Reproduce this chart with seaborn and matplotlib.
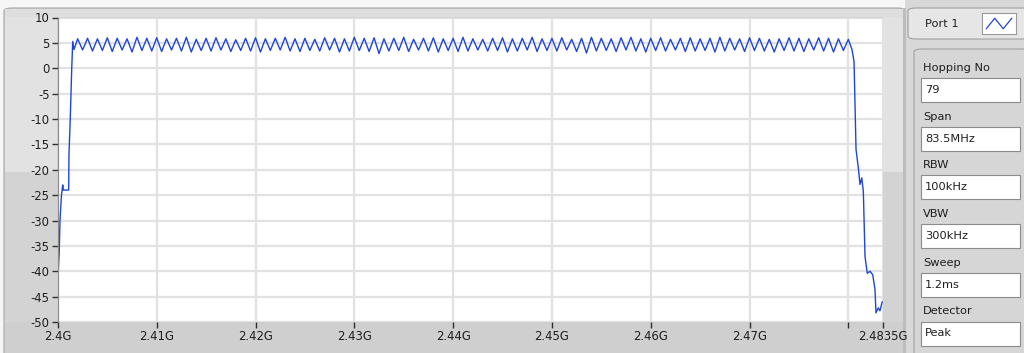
"""
Bluetooth hopping spectrum (79 channels) recreated as a LabVIEW-like panel.
"""

import numpy as np
import pandas as pd
import matplotlib

matplotlib.use("Agg")
import matplotlib.pyplot as plt
import seaborn as sns
from matplotlib.patches import Rectangle, FancyBboxPatch


# hop channels in MHz (79 channels, 1 MHz apart)
HOP_CHANNELS_MHZ = list(range(2402, 2481))

# peak level on each channel, dBm
PEAK_DB = [
    5.8, 5.9, 5.8, 6.0, 5.9, 5.8, 6.1, 5.9, 6.0, 5.8,
    5.9, 6.1, 5.7, 5.9, 6.0, 5.8, 5.6, 5.9, 6.0, 5.8,
    5.9, 6.1, 5.8, 5.9, 5.7, 6.0, 5.9, 5.8, 6.1, 5.9,
    6.0, 5.8, 5.9, 6.1, 5.7, 5.9, 6.0, 5.8, 5.9, 6.1,
    5.8, 5.7, 5.9, 6.0, 5.8, 5.9, 6.1, 5.8, 5.9, 6.0,
    5.7, 5.9, 6.1, 5.9, 5.8, 6.0, 6.1, 5.8, 5.9, 6.0,
    5.7, 5.9, 6.0, 5.8, 5.9, 6.1, 5.9, 5.8, 6.0, 5.9,
    5.7, 5.8, 6.0, 5.9, 5.8, 6.0, 5.9, 5.8, 5.7,
]

# level of the dip between neighbouring channels, dBm
DIP_DB = [
    3.6, 3.4, 3.5, 3.3, 3.6, 3.2, 3.5, 3.4, 3.3, 3.6,
    3.4, 3.2, 3.5, 3.4, 3.6, 3.3, 3.5, 3.4, 3.2, 3.5,
    3.6, 3.4, 3.3, 3.5, 3.4, 3.6, 3.2, 3.4, 3.5, 3.3,
    2.9, 3.4, 3.5, 3.3, 3.6, 3.4, 3.2, 3.5, 3.3, 3.4,
    3.6, 3.4, 3.5, 3.2, 3.4, 3.6, 3.3, 3.5, 3.4, 3.6,
    3.3, 3.0, 3.4, 3.5, 3.3, 3.6, 3.4, 3.2, 3.5, 3.4,
    3.6, 3.3, 3.4, 3.5, 3.2, 3.4, 3.6, 3.3, 3.5, 3.4,
    3.2, 3.5, 3.4, 3.3, 3.6, 3.4, 3.2, 3.5,
]

# band edges
LEFT_EDGE_MHZ = [2400.0, 2400.14, 2400.21, 2400.36, 2400.49, 2400.55,
                 2401.09, 2401.12, 2401.25, 2401.40, 2401.50, 2401.63]
LEFT_EDGE_DB = [-41.5, -36, -30, -25, -23, -24, -24, -17, -10, 0, 5.3, 3.7]

RIGHT_EDGE_MHZ = [2480.37, 2480.58, 2480.71, 2480.78, 2481.01, 2481.18,
                  2481.36, 2481.52, 2481.69, 2481.92, 2482.2, 2482.47,
                  2482.7, 2482.8, 2483.03, 2483.2, 2483.43]
RIGHT_EDGE_DB = [3.7, 1.3, -10, -16, -19.6, -22.9, -21.6, -24.3, -37.1,
                 -40.4, -40, -40.7, -43.6, -48.2, -47.2, -47.8, -46]

X_TICKS_GHZ = [2.40, 2.41, 2.42, 2.43, 2.44, 2.45, 2.46, 2.47, 2.48, 2.4835]
X_TICK_LABELS = ["2.4G", "2.41G", "2.42G", "2.43G", "2.44G", "2.45G",
                 "2.46G", "2.47G", "", "2.4835G"]
Y_TICKS = [10, 5, 0, -5, -10, -15, -20, -25, -30, -35, -40, -45, -50]

SETTINGS_NAMES = ["Hopping No", "Span", "RBW", "VBW", "Sweep", "Detector"]
SETTINGS_VALUES = ["79", "83.5MHz", "100kHz", "300kHz", "1.2ms", "Peak"]

W, H = 1024, 353
TRACE_BLUE = "#1f45d8"


def build_trace() -> pd.DataFrame:
    freq = list(LEFT_EDGE_MHZ)
    level = list(LEFT_EDGE_DB)
    for i, ch in enumerate(HOP_CHANNELS_MHZ):
        freq.append(ch)
        level.append(PEAK_DB[i])
        if i < len(DIP_DB):
            freq.append(ch + 0.5)
            level.append(DIP_DB[i])
    freq += RIGHT_EDGE_MHZ
    level += RIGHT_EDGE_DB
    return pd.DataFrame({"freq_ghz": np.array(freq) / 1000.0, "level": level})


def box(x0, y0, x1, y1):
    # pixel box (top-left origin) -> figure fraction (x, y, w, h)
    return x0 / W, 1 - y1 / H, (x1 - x0) / W, (y1 - y0) / H


def add_rect(fig, x0, y0, x1, y1, face, edge="none", lw=0.0, z=0):
    x, y, w, h = box(x0, y0, x1, y1)
    fig.add_artist(Rectangle((x, y), w, h, transform=fig.transFigure,
                             facecolor=face, edgecolor=edge, linewidth=lw,
                             zorder=z))


def add_round(fig, x0, y0, x1, y1, face, edge, z=0):
    x, y, w, h = box(x0, y0, x1, y1)
    fig.add_artist(FancyBboxPatch((x, y), w, h, transform=fig.transFigure,
                                  boxstyle="round,pad=0,rounding_size=0.008",
                                  facecolor=face, edgecolor=edge,
                                  linewidth=0.8, zorder=z))


def main() -> None:
    sns.set_theme(style="white")
    plt.rcParams["font.family"] = ["DejaVu Sans"]
    fig = plt.figure(figsize=(W / 100, H / 100), dpi=100, facecolor="#f6f6f6")

    # graph panel backdrop
    add_round(fig, 4, 8, 905, 360, "#d3d3d3", "#a8a8a8", z=-5)
    add_rect(fig, 5, 9, 904, 17, "#dedede", z=-4)
    add_rect(fig, 5, 17, 57, 172, "#e2e2e2", z=-4)
    add_rect(fig, 883, 17, 903, 172, "#e2e2e2", z=-4)
    add_rect(fig, 5, 322, 904, 353, "#cfcfcf", z=-4)

    # right side panel
    add_rect(fig, 905, 0, 1024, 353, "#d8d8d8", z=-6)
    add_rect(fig, 903, 8, 906, 353, "#bdbdbd", z=-3)
    add_round(fig, 908, 8, 1030, 39, "#e6e6e6", "#a0a0a0", z=-2)
    fig.text(925 / W, 1 - 24 / H, "Port 1", fontsize=8.2, color="#202020",
             va="center", ha="left")
    icon = fig.add_axes(box(982, 13, 1016, 34))
    icon.set_zorder(3)
    icon.plot([0, 1, 2, 3], [0, 1, 0, 1], color=TRACE_BLUE, lw=0.9)
    icon.set_xlim(-0.5, 3.5)
    icon.set_ylim(-0.5, 1.5)
    icon.set_xticks([])
    icon.set_yticks([])
    icon.set_facecolor("white")
    for s in icon.spines.values():
        s.set_color("#9a9a9a")
        s.set_linewidth(0.8)

    add_round(fig, 914, 49, 1030, 360, "#d6d6d6", "#a0a0a0", z=-2)
    for i, (name, value) in enumerate(zip(SETTINGS_NAMES, SETTINGS_VALUES)):
        top = 58 + i * 48.7
        fig.text(923 / W, 1 - (top + 10) / H, name, fontsize=8.2,
                 color="#1e1e1e", va="center", ha="left")
        add_rect(fig, 921, top + 20, 1020, top + 44, "white", "#8c8c8c",
                 0.8, z=1)
        fig.text(925 / W, 1 - (top + 32) / H, value, fontsize=8.2,
                 color="#1e1e1e", va="center", ha="left", zorder=2)

    # plot area
    ax = fig.add_axes(box(57.9, 17.5, 882.9, 322))
    ax.set_facecolor("white")
    trace = build_trace()
    sns.lineplot(data=trace, x="freq_ghz", y="level", sort=False,
                 estimator=None, color=TRACE_BLUE, linewidth=1.0, ax=ax)

    ax.set_xlim(2.4, 2.4835)
    ax.set_ylim(-50, 10)
    ax.set_xticks(X_TICKS_GHZ)
    ax.set_xticklabels(X_TICK_LABELS)
    ax.set_yticks(Y_TICKS)
    ax.set_yticklabels([str(v) for v in Y_TICKS])
    ax.set_xlabel("")
    ax.set_ylabel("")
    ax.grid(True, color="#e2e2e2", linewidth=1.6)
    ax.set_axisbelow(True)
    ax.tick_params(axis="both", direction="out", length=4, width=1,
                   color="#303030", labelsize=8.4, labelcolor="#1e1e1e",
                   pad=2)
    ax.tick_params(axis="x", bottom=True)
    ax.tick_params(axis="y", left=True)
    for side in ["top", "right", "bottom"]:
        ax.spines[side].set_visible(False)
    ax.spines["left"].set_color("#8a8a8a")
    ax.spines["left"].set_linewidth(0.8)

    fig.savefig("out.png", dpi=100, facecolor=fig.get_facecolor())


if __name__ == "__main__":
    main()
